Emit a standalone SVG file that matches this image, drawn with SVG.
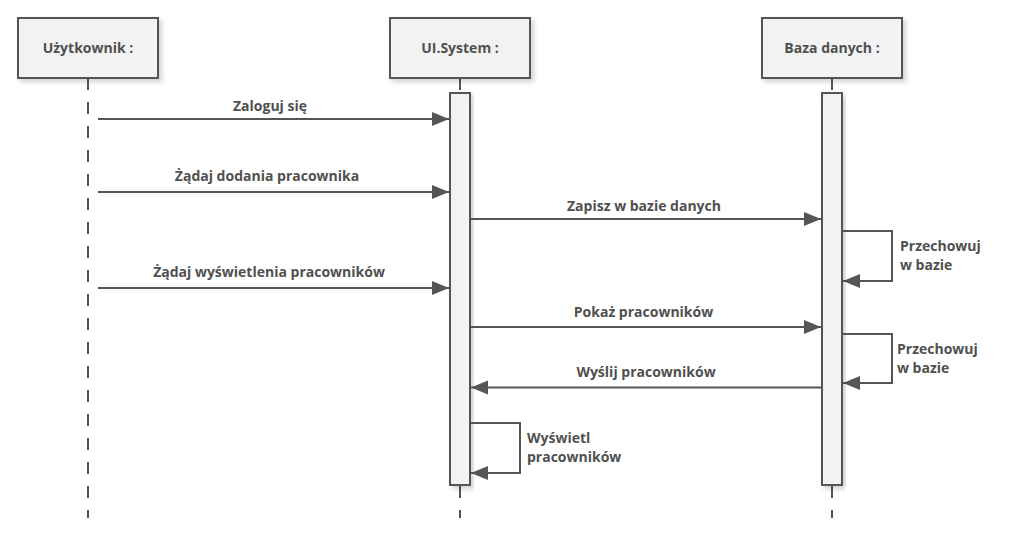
<svg xmlns="http://www.w3.org/2000/svg" width="1011" height="538" viewBox="0 0 1011 538">
<defs>
<filter id="sh" x="-20%" y="-20%" width="140%" height="140%">
<feDropShadow dx="3" dy="3" stdDeviation="2.5" flood-color="#000" flood-opacity="0.18"/>
</filter>
<marker id="arr" markerWidth="18" markerHeight="16" refX="17" refY="7" orient="auto" markerUnits="userSpaceOnUse">
<path d="M0,0 L17,7 L0,14 Z" fill="#555555"/>
</marker>
</defs>
<style>
.box{fill:#f2f2f2;stroke:#555555;stroke-width:2;filter:url(#sh);}
.act{fill:#f2f2f2;stroke:#555555;stroke-width:2;filter:url(#sh);}
.life{stroke:#555555;stroke-width:2;stroke-dasharray:12 12;fill:none;}
.msg{stroke:#555555;stroke-width:2;fill:none;marker-end:url(#arr);}
text{font-family:"Open Sans","Liberation Sans",sans-serif;font-weight:bold;font-size:14px;fill:#505050;}
.c{text-anchor:middle;}
</style>
<rect width="1011" height="538" fill="#ffffff"/>
<g id="lifelines">
<line class="life" x1="88" y1="78" x2="88" y2="518"/>
<line class="life" x1="460" y1="78" x2="460" y2="518"/>
<line class="life" x1="832" y1="78" x2="832" y2="518"/>
</g>
<g id="uzytkownik">
<rect class="box" x="18" y="18" width="140" height="60"/>
<text class="c" x="88" y="53">Użytkownik :</text>
</g>
<g id="uisystem">
<rect class="box" x="390" y="18" width="140" height="60"/>
<text class="c" x="460" y="53">UI.System :</text>
<rect class="act" x="450" y="93" width="20" height="392"/>
</g>
<g id="baza">
<rect class="box" x="762" y="18" width="140" height="60"/>
<text class="c" x="832" y="53">Baza danych :</text>
<rect class="act" x="822" y="93" width="20" height="392"/>
</g>
<g id="connectors">
<path class="msg" d="M98,119 H449"/>
<path class="msg" d="M98,192 H449"/>
<path class="msg" d="M471,219 H821"/>
<path class="msg" d="M843,231 H892 V281 H843"/>
<path class="msg" d="M98,288 H449"/>
<path class="msg" d="M471,327 H821"/>
<path class="msg" d="M843,334 H892 V383 H843"/>
<path class="msg" d="M821,387.5 H471"/>
<path class="msg" d="M471,423 H520 V473 H471"/>
</g>
<g id="labels">
<text class="c" x="270" y="110.5">Zaloguj się</text>
<text class="c" x="267" y="181">Żądaj dodania pracownika</text>
<text class="c" x="644" y="210.5">Zapisz w bazie danych</text>
<text x="900" y="250.5">Przechowuj</text>
<text x="900" y="270">w bazie</text>
<text class="c" x="269" y="277">Żądaj wyświetlenia pracowników</text>
<text class="c" x="643.5" y="316.5">Pokaż pracowników</text>
<text x="897" y="354">Przechowuj</text>
<text x="897" y="373">w bazie</text>
<text class="c" x="646" y="377">Wyślij pracowników</text>
<text x="527" y="442.5">Wyświetl</text>
<text x="527" y="461.5">pracowników</text>
</g>
</svg>
